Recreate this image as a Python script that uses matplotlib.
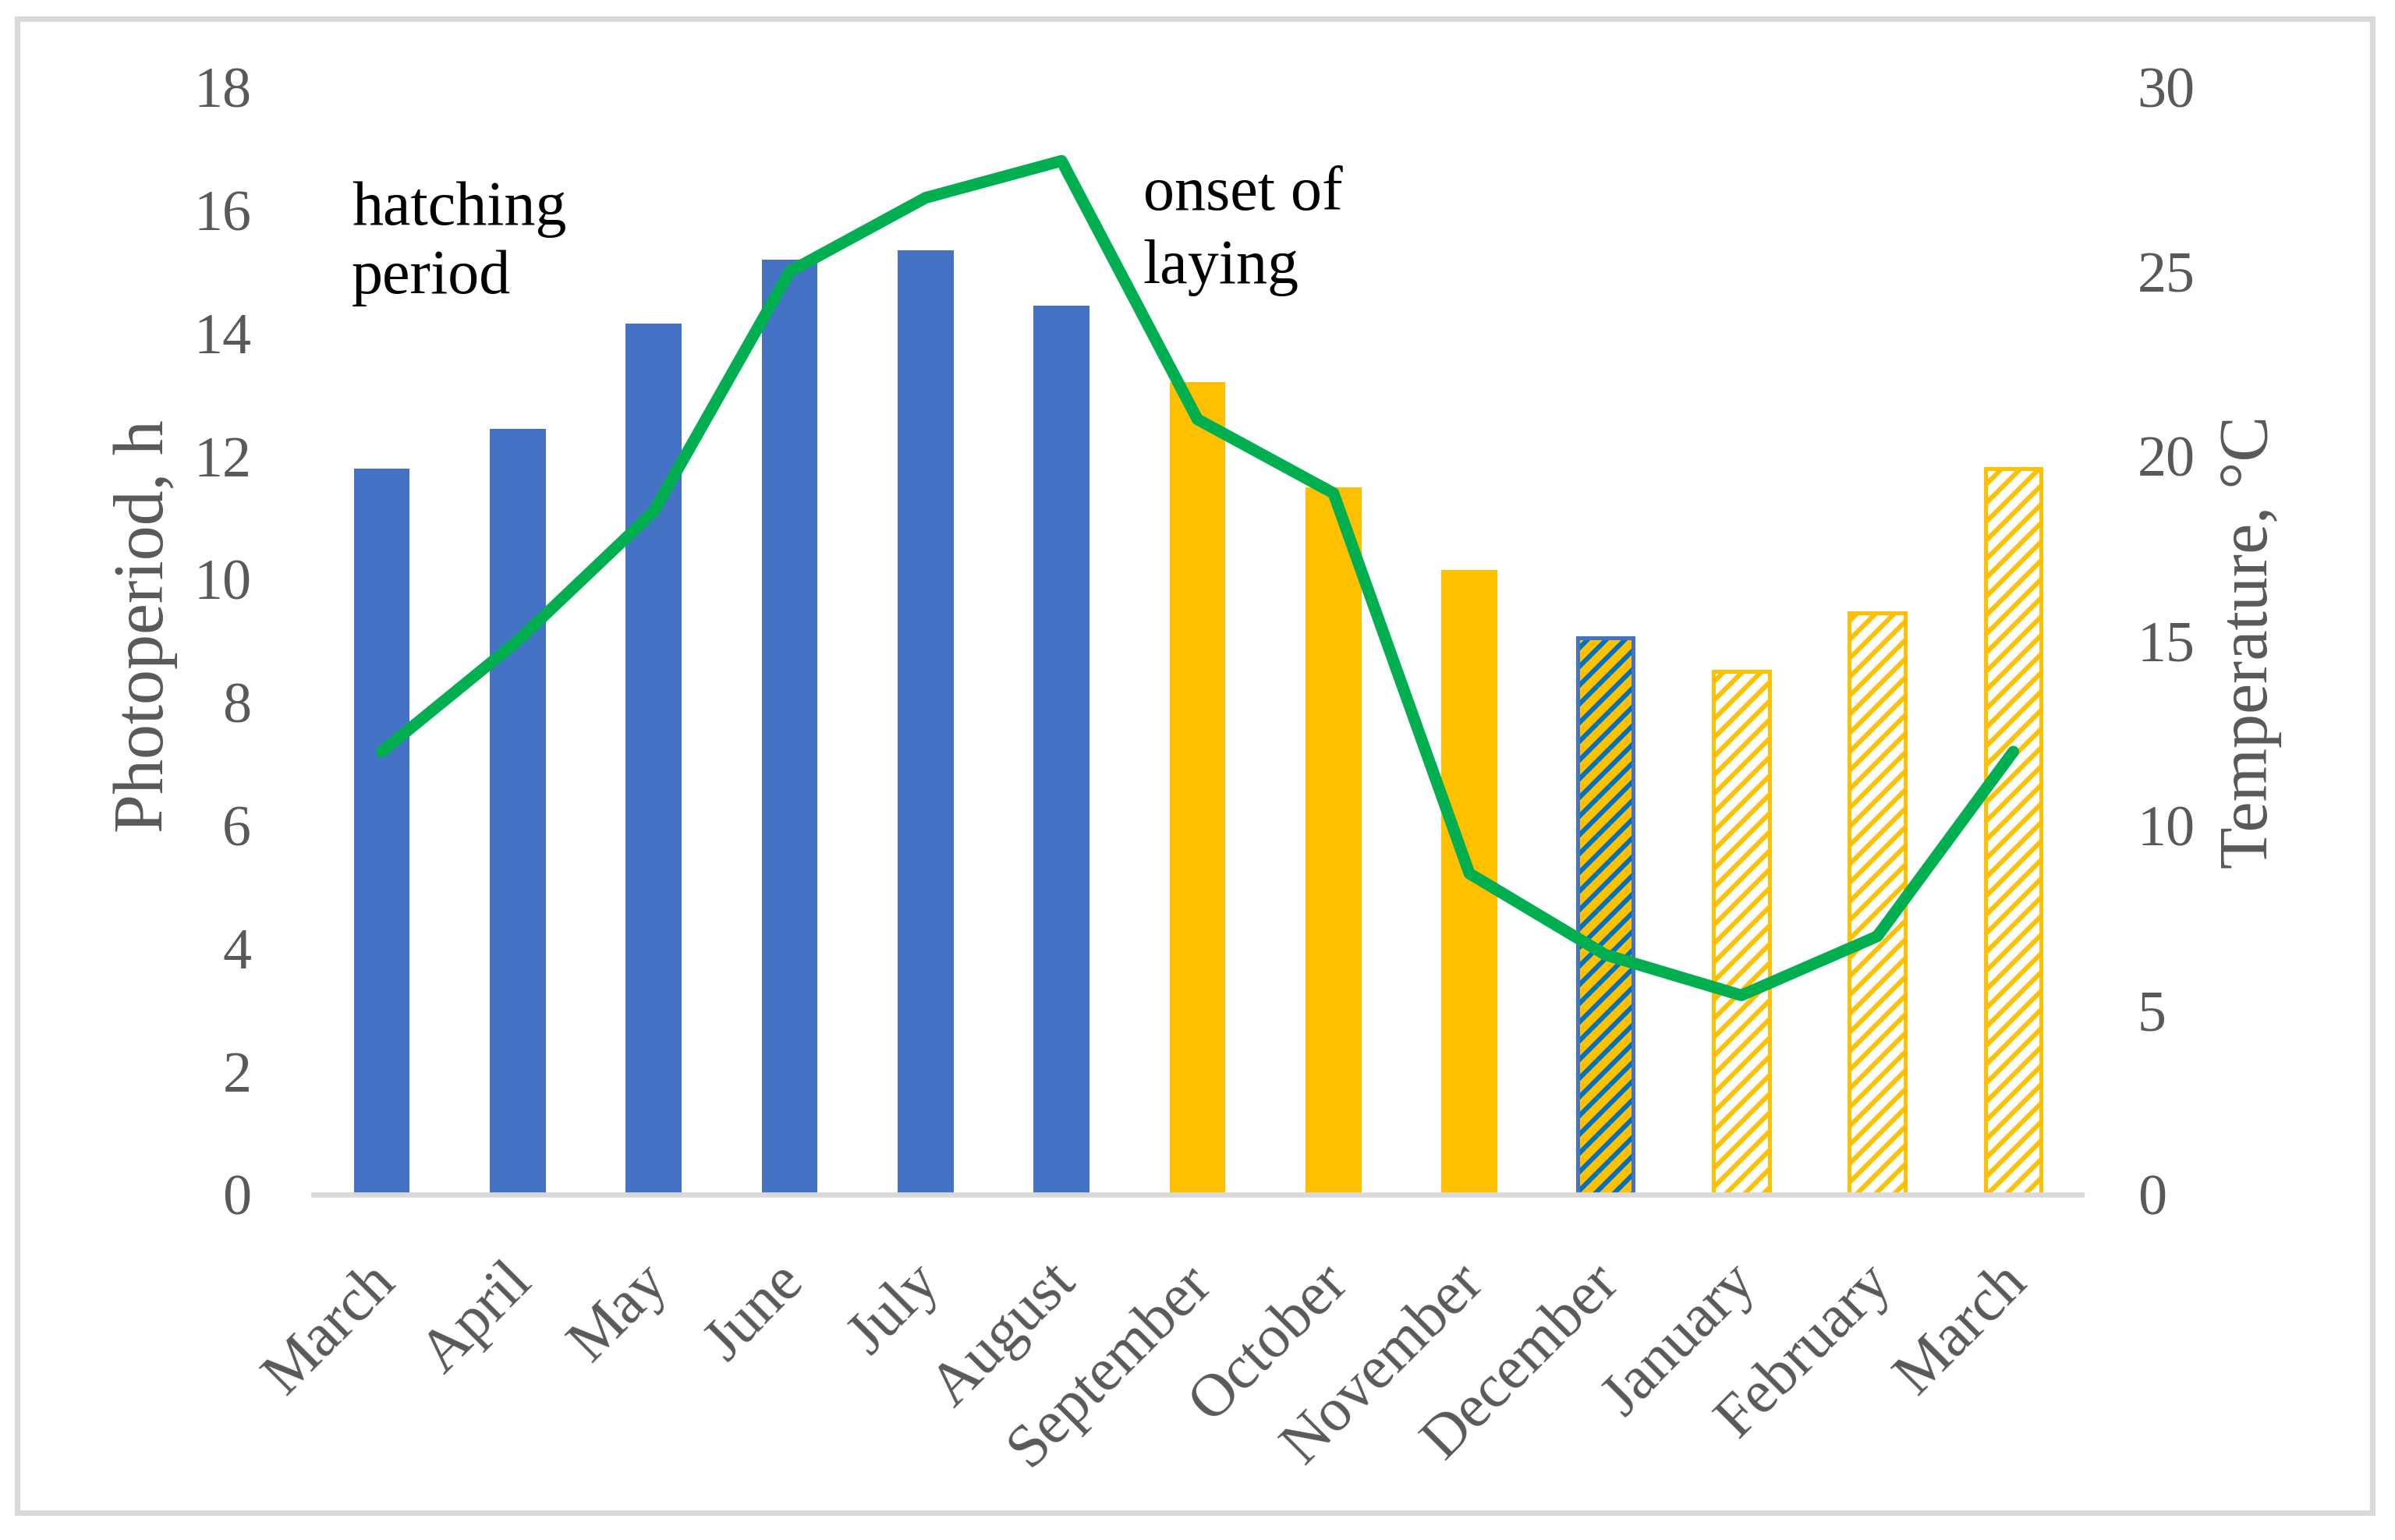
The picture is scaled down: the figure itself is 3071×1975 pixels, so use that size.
import numpy as np
import matplotlib
matplotlib.use('Agg')
import matplotlib.pyplot as plt
from matplotlib import patches
from matplotlib.transforms import ScaledTranslation

# data
months = ['March', 'April', 'May', 'June', 'July', 'August', 'September',
          'October', 'November', 'December', 'January', 'February', 'March']
photoperiod = [11.8, 12.45, 14.15, 15.2, 15.35, 14.45, 13.2, 11.5, 10.15, 9.05, 8.5, 9.45, 11.8]
temperature = [12.0, 15.0, 18.5, 25.0, 27.0, 28.0, 21.0, 19.0, 8.7, 6.5, 5.4, 7.0, 12.0]

# bar style per month: 'blue', 'orange', 'mixed' (orange with blue stripes), 'hatched' (white with orange stripes)
styles = ['blue'] * 6 + ['orange'] * 3 + ['mixed'] + ['hatched'] * 3

BLUE = '#4472C4'
ORANGE = '#FFC000'
STRIPE_BLUE = '#0070C0'
GREEN = '#00B050'
GRAY = '#595959'
LIGHT = '#D9D9D9'

plt.rcParams['font.family'] = ['Liberation Serif', 'DejaVu Serif']
plt.rcParams['hatch.linewidth'] = 3.0

fig = plt.figure(figsize=(3071 / 144, 1975 / 144), dpi=144)
ax = fig.add_axes([0.131, 0.2242, 0.738, 0.7193])

x = np.arange(len(months))
w = 0.41
for i, (h, s) in enumerate(zip(photoperiod, styles)):
    if s == 'blue':
        ax.bar(x[i], h, w, color=BLUE, linewidth=0)
    elif s == 'orange':
        ax.bar(x[i], h, w, color=ORANGE, linewidth=0)
    elif s == 'mixed':
        ax.bar(x[i], h, w, color=ORANGE, hatch='//', edgecolor=STRIPE_BLUE, linewidth=0)
        ax.bar(x[i], h, w, fill=False, edgecolor=BLUE, linewidth=2.5)
    else:
        ax.bar(x[i], h, w, color='white', hatch='//', edgecolor=ORANGE, linewidth=0)
        ax.bar(x[i], h, w, fill=False, edgecolor=ORANGE, linewidth=2.5)

ax.set_xlim(-0.5, len(months) - 0.5)
ax.set_ylim(0, 18)
ax.set_yticks(np.arange(0, 19, 2))
ax.set_xticks(x)
ax.set_xticklabels([])
ax.tick_params(axis='x', length=0)
ax.tick_params(axis='y', length=0, pad=40, labelsize=37, labelcolor=GRAY)
for sp in ['top', 'right', 'left']:
    ax.spines[sp].set_visible(False)
ax.spines['bottom'].set_color(LIGHT)
ax.spines['bottom'].set_linewidth(3.3)
ax.set_ylabel('Photoperiod, h', fontsize=45, color=GRAY)
ax.yaxis.set_label_coords(-0.077, 0.513)

# month labels, rotated and anchored just below each category
lbl_tr = ax.get_xaxis_transform() + ScaledTranslation(-9 / 72, -38 / 72, fig.dpi_scale_trans)
for xi, m in zip(x, months):
    ax.text(xi, 0, m, transform=lbl_tr, rotation=45, ha='right', va='top',
            rotation_mode='anchor', fontsize=39, color=GRAY)

ax2 = ax.twinx()
ax2.plot(x, temperature, color=GREEN, linewidth=7.5, solid_capstyle='round')
ax2.set_ylim(0, 30)
ax2.set_yticks(np.arange(0, 31, 5))
ax2.tick_params(axis='y', length=0, pad=36, labelsize=37, labelcolor=GRAY)
for sp in ax2.spines.values():
    sp.set_visible(False)
ax2.set_ylabel('Temperature, °C', fontsize=44, color=GRAY, rotation=90)
ax2.yaxis.set_label_coords(1.078, 0.499)

# annotations, one line each at its own baseline
ax.text(-0.22, 15.76, 'hatching', fontsize=40, va='baseline', ha='left', color='black')
ax.text(-0.22, 14.65, 'period', fontsize=40, va='baseline', ha='left', color='black')
ax.text(5.60, 16.01, 'onset of', fontsize=40, va='baseline', ha='left', color='black')
ax.text(5.60, 14.82, 'laying', fontsize=40, va='baseline', ha='left', color='black')

# light grey frame around the whole chart
frame = patches.Rectangle((22 / 3071, 1 - 1940 / 1975), 3020 / 3071, 1916 / 1975,
                          transform=fig.transFigure, fill=False, edgecolor=LIGHT, linewidth=3.5)
fig.patches.append(frame)

fig.savefig('out.png', dpi=144, facecolor='white')
